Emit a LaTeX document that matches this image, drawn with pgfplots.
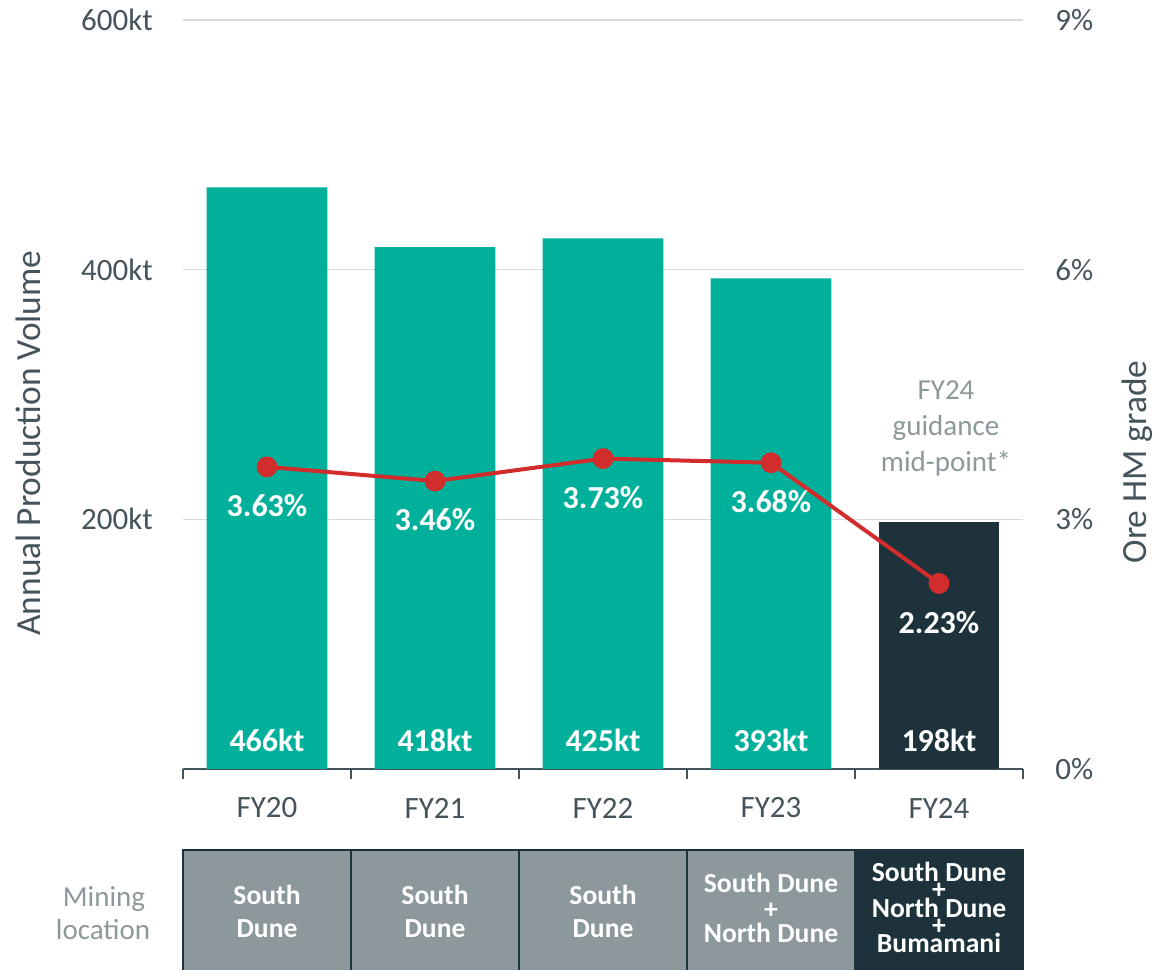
\documentclass[border=0pt]{standalone}
\usepackage{fontspec}
\setmainfont{Carlito}
\usepackage{pgfplots}
\pgfplotsset{compat=1.18}
\definecolor{barteal}{RGB}{0,176,155}
\definecolor{bardark}{RGB}{29,50,58}
\definecolor{cellgray}{RGB}{140,152,155}
\definecolor{slate}{RGB}{68,84,90}
\definecolor{notegray}{RGB}{140,153,155}
\definecolor{gridgray}{RGB}{217,217,217}
\definecolor{linered}{RGB}{210,45,45}

\begin{document}
\begin{tikzpicture}
\pgfplotsset{
  base/.style={
    scale only axis, width=420pt, height=374.5pt,
    at={(91.5pt,100.5pt)}, anchor=south west,
    xmin=-0.5, xmax=4.5,
    /pgf/number format/assume math mode=true,
    tick label style={font=\fontsize{15.5}{18}\selectfont, text=slate},
    clip=false,
  },
}
% left axis: production volume (kt)
\begin{axis}[base, ymin=0, ymax=600,
  axis x line*=bottom, axis y line*=left,
  y axis line style={draw=none},
  x axis line style={draw=slate, line width=0.8pt},
  xtick={0,...,4}, xticklabels={FY20,FY21,FY22,FY23,FY24},
  minor xtick={-0.5,0.5,...,4.5},
  major tick length=0pt, minor tick length=5pt, tick align=outside,
  minor tick style={draw=slate, line width=0.8pt},
  ytick={200,400,600}, yticklabel={\pgfmathprintnumber{\tick}kt},
  ymajorgrids, grid style={draw=gridgray, line width=0.8pt},
  xticklabel style={anchor=center, yshift=-19.5pt},
  yticklabel style={inner sep=0pt, xshift=-15pt},
]
\addplot[ybar, bar width=0.72, bar shift=0pt, fill=barteal, draw=none]
  coordinates {(0,466) (1,418) (2,425) (3,393)};
\addplot[ybar, bar width=0.72, bar shift=0pt, fill=bardark, draw=none]
  coordinates {(4,198)};
% value labels at the foot of each bar
\addplot[draw=none, mark=none, point meta=explicit,
  nodes near coords={\pgfmathprintnumber{\pgfplotspointmeta}kt},
  nodes near coords align=center,
  nodes near coords style={font=\bfseries\fontsize{16}{19}\selectfont, text=white}]
  coordinates {(0,23.2) [466] (1,23.2) [418] (2,23.2) [425] (3,23.2) [393] (4,23.2) [198]};
\end{axis}

% right axis: ore HM grade (%)
\begin{axis}[base, ymin=0, ymax=9,
  axis y line*=right, axis x line=none,
  y axis line style={draw=none},
  ytick={0,3,6,9}, yticklabel={\pgfmathprintnumber{\tick}\%},
  major tick length=0pt,
  yticklabel style={inner sep=0pt, xshift=16pt},
]
\addplot[linered, line width=2pt, mark=*, mark size=4.2pt,
  mark options={fill=linered, draw=none},
  nodes near coords={\pgfmathprintnumber[fixed,fixed zerofill,precision=2]{\pgfplotspointmeta}\%},
  nodes near coords align=center,
  nodes near coords style={font=\bfseries\fontsize{16}{19}\selectfont, text=white, yshift=-19.5pt}]
  coordinates {(0,3.63) (1,3.46) (2,3.73) (3,3.68) (4,2.23)};
\end{axis}

% annotations in pixel units of the reference (origin top left)
\begin{scope}[x=0.5pt, y=-0.5pt, shift={(0pt,485pt)}]
  \node[rotate=90, text=slate, font=\fontsize{17.7}{20}\selectfont] at (28,443) {Annual Production Volume};
  \node[rotate=90, text=slate, font=\fontsize{17.7}{20}\selectfont] at (1137,462) {Ore HM grade};

  \tikzset{note/.style={anchor=base, text=notegray, font=\fontsize{14.5}{17}\selectfont, inner sep=0pt}}
  \node[note] at (946,400) {FY24};
  \node[note] at (946,436) {guidance};
  \node[note] at (946,472) {mid-point*};

  \node[note] at (104,907) {Mining};
  \node[note] at (103,940) {location};

  \foreach \i/\c in {0/cellgray,1/cellgray,2/cellgray,3/cellgray,4/bardark}
    \draw[draw=bardark, line width=1.35pt, fill=\c]
      ({183+168*\i},850) rectangle ({183+168*(\i+1)},1000);

  \tikzset{cell/.style={anchor=base, text=white, font=\bfseries\fontsize{13.8}{16}\selectfont, inner sep=0pt},
           plus/.style={anchor=center, text=white, font=\bfseries\fontsize{13.8}{16}\selectfont, inner sep=0pt}}
  \foreach \x in {267,435,603} {
    \node[cell] at (\x,905) {South};
    \node[cell] at (\x,938) {Dune};
  }
  \node[cell] at (771,893) {South Dune};
  \node[plus] at (771,911) {+};
  \node[cell] at (771,943) {North Dune};

  \node[cell] at (939,882) {South Dune};
  \node[plus] at (939,891) {+};
  \node[cell] at (939,918) {North Dune};
  \node[plus] at (939,927) {+};
  \node[cell] at (939,953) {Bumamani};
\end{scope}

\pgfresetboundingbox
\useasboundingbox (0,0) rectangle (576.5pt,485pt);
\end{tikzpicture}
\end{document}
